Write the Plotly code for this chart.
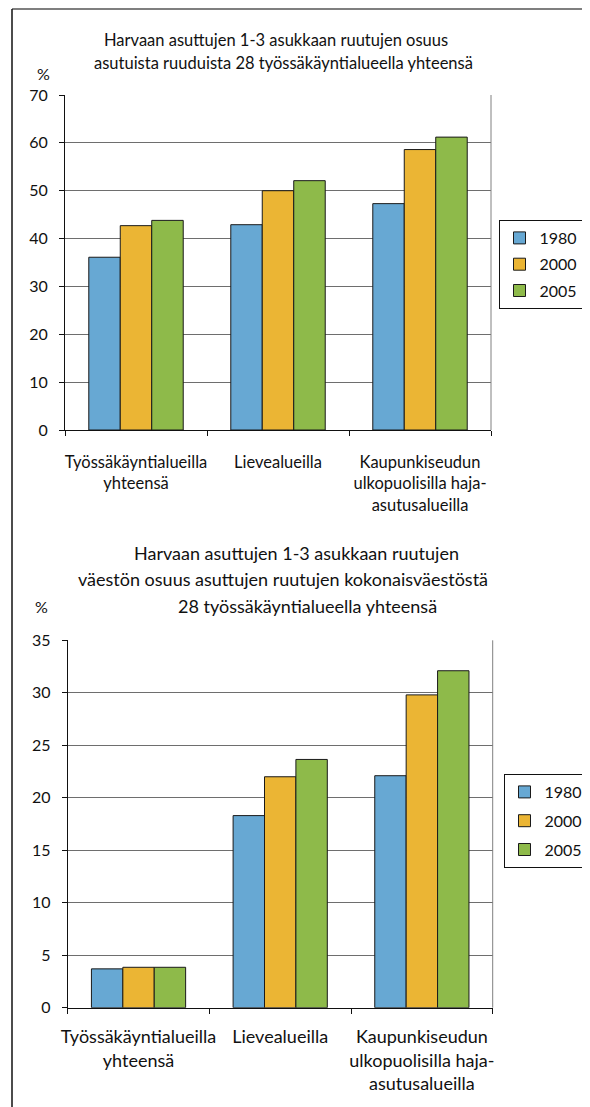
import plotly.graph_objects as go

# data
categories = [
    "Työssäkäyntialueilla<br>yhteensä",
    "Lievealueilla",
    "Kaupunkiseudun<br>ulkopuolisilla haja-<br>asutusalueilla",
]
years = ["1980", "2000", "2005"]
colors = ["#67A8D3", "#EBB534", "#8EBA4A"]

share_cells = {
    "1980": [36.1, 42.9, 47.3],
    "2000": [42.7, 50.0, 58.6],
    "2005": [43.8, 52.1, 61.2],
}
share_population = {
    "1980": [3.7, 18.3, 22.1],
    "2000": [3.85, 22.0, 29.8],
    "2005": [3.85, 23.65, 32.1],
}

title_top = [
    "Harvaan asuttujen 1-3 asukkaan ruutujen osuus",
    "asutuista ruuduista 28 työssäkäyntialueella yhteensä",
]
title_bottom = [
    "Harvaan asuttujen 1-3 asukkaan ruutujen",
    "väestön osuus asuttujen ruutujen kokonaisväestöstä",
    "28 työssäkäyntialueella yhteensä",
]

# the page body puts the figure 8px in from the corner of the window
OFF = 8
W, H = 590 - OFF, 1107 - OFF
FONT = "Lato"
INK = "#111"


def px_x(x):
    return (x - OFF) / W


def px_y(y):
    return 1 - (y - OFF) / H


fig = go.Figure()

for i, yr in enumerate(years):
    fig.add_trace(
        go.Bar(
            x=categories,
            y=share_cells[yr],
            name=yr,
            marker=dict(color=colors[i], line=dict(color="#1a1a1a", width=1)),
            xaxis="x",
            yaxis="y",
            legend="legend",
            legendgroup="a" + yr,
        )
    )
    fig.add_trace(
        go.Bar(
            x=categories,
            y=share_population[yr],
            name=yr,
            marker=dict(color=colors[i], line=dict(color="#1a1a1a", width=1)),
            xaxis="x2",
            yaxis="y2",
            legend="legend2",
            legendgroup="b" + yr,
        )
    )


def xaxis_style(size, standoff):
    return dict(
        type="category",
        showline=True,
        linecolor=INK,
        linewidth=1,
        ticks="outside",
        ticklen=5,
        tickcolor=INK,
        tickson="boundaries",
        tickangle=0,
        tickfont=dict(family=FONT, size=size, color=INK),
        ticklabelstandoff=standoff,
        showgrid=False,
    )


yaxis_style = dict(
    showline=True,
    linecolor=INK,
    linewidth=1,
    ticks="outside",
    ticklen=5,
    tickcolor=INK,
    tickfont=dict(family=FONT, size=16, color=INK),
    showgrid=True,
    gridcolor="#6e6e6e",
    gridwidth=1,
    zeroline=False,
    ticklabelstandoff=8,
)


def legend_style(x, y, gap):
    return dict(
        x=px_x(x),
        y=px_y(y),
        xanchor="center",
        yanchor="top",
        bgcolor="white",
        bordercolor=INK,
        borderwidth=1,
        font=dict(family=FONT, size=16, color=INK),
        traceorder="grouped",
        tracegroupgap=gap,
        itemwidth=30,
    )


fig.update_layout(
    width=W,
    height=H,
    margin=dict(l=0, r=0, t=0, b=0, autoexpand=False),
    paper_bgcolor="white",
    plot_bgcolor="white",
    barmode="group",
    bargap=0.335,
    bargroupgap=0,
    font=dict(family=FONT, size=16, color=INK),
    xaxis=dict(domain=[px_x(65), px_x(491)], anchor="y", **xaxis_style(16.5, 17)),
    yaxis=dict(domain=[px_y(430), px_y(95)], anchor="x", range=[0, 70], dtick=10, **yaxis_style),
    xaxis2=dict(domain=[px_x(67.7), px_x(492.7)], anchor="y2", **xaxis_style(18, 13)),
    yaxis2=dict(domain=[px_y(1007.7), px_y(640.3)], anchor="x2", range=[0, 35], dtick=5, **yaxis_style),
    legend=legend_style(541, 220, 2.5),
    legend2=legend_style(546, 774, 5),
)

# plot area right edges and outer frame
for xa, ya in [("x", "y"), ("x2", "y2")]:
    fig.add_shape(
        type="line", xref=xa + " domain", yref=ya + " domain",
        x0=1, x1=1, y0=0, y1=1, line=dict(color="#808080", width=1),
    )
fig.add_shape(type="line", xref="paper", yref="paper",
              x0=px_x(12), x1=1, y0=px_y(9), y1=px_y(9),
              line=dict(color="#555", width=1.5))
fig.add_shape(type="line", xref="paper", yref="paper",
              x0=px_x(12), x1=px_x(12), y0=px_y(9), y1=0,
              line=dict(color=INK, width=1.5))

# titles, one annotation per line
for txt, cx, cy in zip(title_top, [276, 283], [40, 63]):
    fig.add_annotation(text=txt, x=px_x(cx), y=px_y(cy), xref="paper", yref="paper",
                       showarrow=False, xanchor="center", yanchor="middle",
                       font=dict(family=FONT, size=16.5, color=INK))
for txt, cx, cy in zip(title_bottom, [296, 283, 307], [553, 579, 606]):
    fig.add_annotation(text=txt, x=px_x(cx), y=px_y(cy), xref="paper", yref="paper",
                       showarrow=False, xanchor="center", yanchor="middle",
                       font=dict(family=FONT, size=18, color=INK))
for cx, cy in [(43, 73), (41, 606)]:
    fig.add_annotation(text="%", x=px_x(cx), y=px_y(cy), xref="paper", yref="paper",
                       showarrow=False, xanchor="center", yanchor="middle",
                       font=dict(family=FONT, size=16, color=INK))

fig.write_html("out.html")
